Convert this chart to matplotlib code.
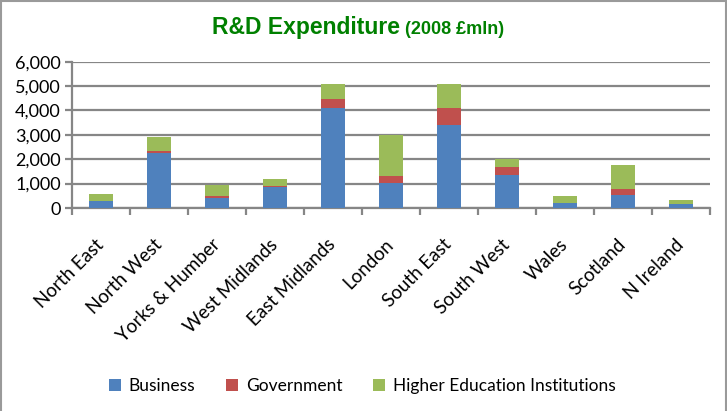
import numpy as np
import matplotlib
import matplotlib.pyplot as plt
import matplotlib.transforms as mtransforms
from matplotlib.patches import Rectangle
matplotlib.use('Agg')

regions = ['North East', 'North West', 'Yorks & Humber', 'West Midlands',
           'East Midlands', 'London', 'South East', 'South West', 'Wales',
           'Scotland', 'N Ireland']
business = [290, 2250, 425, 875, 4110, 1025, 3400, 1350, 205, 530, 165]
government = [10, 70, 80, 15, 355, 285, 700, 330, 10, 245, 10]
higher_ed = [275, 590, 440, 300, 615, 1670, 985, 330, 275, 985, 155]

blue = '#4F81BD'
red = '#C0504D'
green = '#9BBB59'
grid_grey = '#868686'

label_font = ['Lato', 'DejaVu Sans']
title_font = ['Liberation Sans Narrow', 'Liberation Sans', 'DejaVu Sans']

fig = plt.figure(figsize=(7.27, 4.11), dpi=100)
ax = fig.add_axes([72 / 727, 1 - 208 / 411, (710 - 72) / 727, (208 - 61.7) / 411])

x = np.arange(len(regions))
b = np.array(business)
g = np.array(government)
h = np.array(higher_ed)
w = 0.4
ax.bar(x, b, w, color=blue, label='Business', zorder=3)
ax.bar(x, g, w, bottom=b, color=red, label='Government', zorder=3)
ax.bar(x, h, w, bottom=b + g, color=green, label='Higher Education Institutions', zorder=3)

ax.set_xlim(-0.5, len(regions) - 0.5)
ax.set_ylim(0, 6000)
ax.set_yticks(np.arange(0, 6001, 1000))
ax.set_yticklabels([f'{v:,}' for v in range(0, 6001, 1000)], family=label_font, fontsize=13)
ax.yaxis.grid(True, color=grid_grey, linewidth=1.6, zorder=0)
ax.tick_params(axis='y', length=5, width=1.6, color=grid_grey, pad=3)

# category labels at centres, tick marks between categories
ax.set_xticks(x)
ax.set_xticklabels(regions, rotation=45, ha='right', rotation_mode='anchor',
                   family=label_font, fontsize=13.5)
ax.tick_params(axis='x', which='major', length=0, pad=20)
shift = mtransforms.ScaledTranslation(-6 / 100, 0, fig.dpi_scale_trans)
for lbl in ax.get_xticklabels():
    lbl.set_transform(lbl.get_transform() + shift)
ax.set_xticks(np.arange(-0.5, len(regions)), minor=True)
ax.tick_params(axis='x', which='minor', length=5, width=1.6, color=grid_grey)

for side in ['top', 'right']:
    ax.spines[side].set_visible(False)
for side in ['left', 'bottom']:
    ax.spines[side].set_color(grid_grey)
    ax.spines[side].set_linewidth(1.6)

fig.text(400 / 727, 0.918, 'R&D Expenditure', color='#008000', fontsize=16.5, fontweight='bold',
         family=title_font, ha='right', va='baseline')
fig.text(405 / 727, 0.918, '(2008 £mln)', color='#008000', fontsize=13, fontweight='bold',
         family=title_font, ha='left', va='baseline')

fig.legend(loc='center', bbox_to_anchor=(362 / 727, 1 - 386 / 411), ncol=3, frameon=False,
           prop={'family': label_font, 'size': 12.5}, handlelength=0.7, handleheight=0.7,
           handletextpad=0.45, columnspacing=1.75)

fig.patches.append(Rectangle((0.001, -0.01), 0.997, 1.008, transform=fig.transFigure,
                             fill=False, edgecolor='#9A9A9A', linewidth=1.5))

fig.savefig('out.png', dpi=100)
